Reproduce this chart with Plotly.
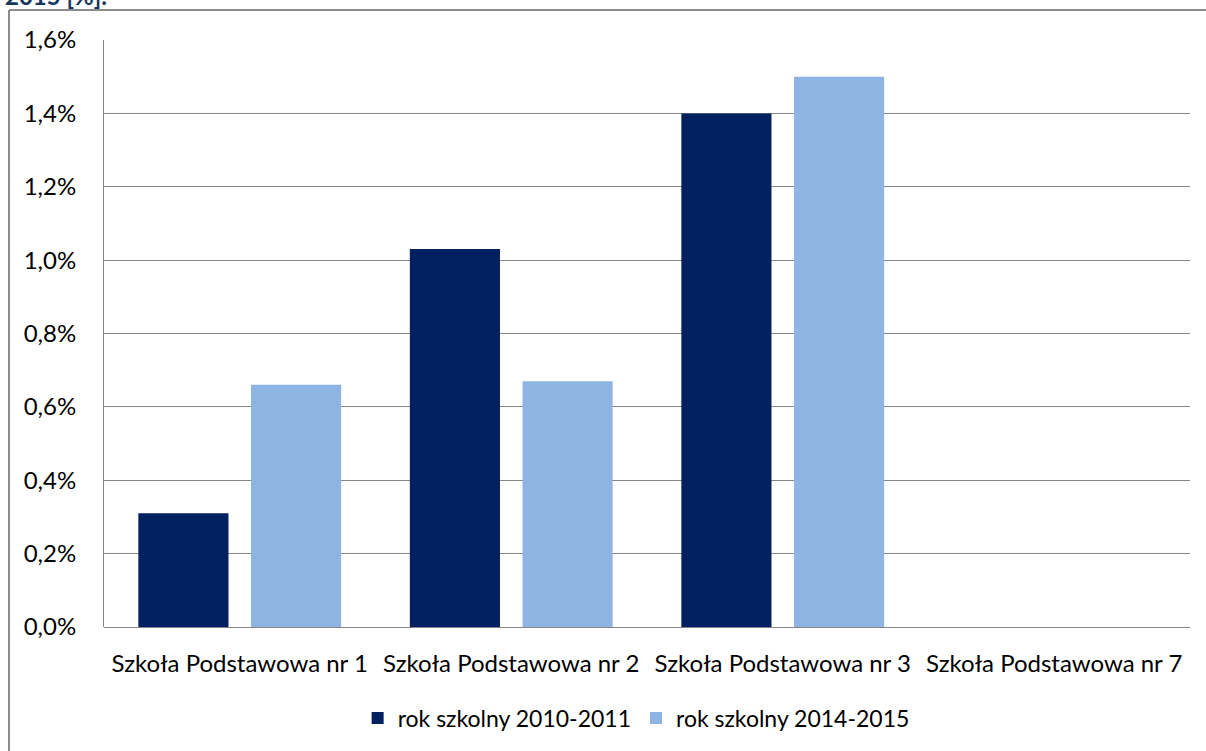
import plotly.graph_objects as go

# --- Data ---
schools = ["Szkoła Podstawowa nr 1", "Szkoła Podstawowa nr 2",
           "Szkoła Podstawowa nr 3", "Szkoła Podstawowa nr 7"]
rok_2010_2011 = [0.31, 1.03, 1.40, 0]
rok_2014_2015 = [0.66, 0.67, 1.50, 0]
y_ticks = [0, 0.2, 0.4, 0.6, 0.8, 1.0, 1.2, 1.4, 1.6]
y_labels = ["0,0%", "0,2%", "0,4%", "0,6%", "0,8%", "1,0%", "1,2%", "1,4%", "1,6%"]

FONT = "Lato, Calibri, sans-serif"
GRID = "#868686"
FRAME = "#8c8c8c"

fig = go.Figure()
fig.add_trace(go.Bar(x=schools, y=rok_2010_2011, name="rok szkolny 2010-2011",
                     marker=dict(color="#002060", line=dict(width=0))))
fig.add_trace(go.Bar(x=schools, y=rok_2014_2015, name="rok szkolny 2014-2015",
                     marker=dict(color="#8EB4E3", line=dict(width=0))))

# frame edges in paper coords (plot area: x 104..1190, y 40..627 px)
fx0 = (9 - 104) / 1086
fy1 = 1 + 30 / 587

fig.update_layout(
    width=1206, height=751,
    margin=dict(l=104, r=16, t=40, b=124),
    paper_bgcolor="white", plot_bgcolor="white",
    font=dict(family=FONT, size=24, color="#000000"),
    barmode="group", bargap=0.17, bargroupgap=0.2,
    showlegend=True,
    legend=dict(orientation="h", x=0.49, xanchor="center", y=-0.155, yanchor="middle",
                font=dict(size=23), tracegroupgap=0, itemwidth=30),
    xaxis=dict(showgrid=False, showline=False, ticks="", ticklabelstandoff=20,
               tickfont=dict(size=24)),
    yaxis=dict(range=[0, 1.6], tickvals=y_ticks, ticktext=y_labels,
               showgrid=True, gridcolor=GRID, gridwidth=1,
               zeroline=True, zerolinecolor=GRID, zerolinewidth=1,
               showline=True, linecolor=GRID, linewidth=1,
               ticks="", ticklabelstandoff=22, tickfont=dict(size=24)),
    shapes=[
        # outer chart frame: left and top edges
        dict(type="line", xref="paper", yref="paper", x0=fx0, x1=fx0, y0=-0.3, y1=fy1,
             line=dict(color=FRAME, width=2)),
        dict(type="line", xref="paper", yref="paper", x0=fx0, x1=1.05, y0=fy1, y1=fy1,
             line=dict(color=FRAME, width=2)),
    ],
    annotations=[
        dict(text="<b>2015 [%].</b>", xref="paper", yref="paper",
             x=(3 - 104) / 1086, y=1 + 28 / 587, xanchor="left", yanchor="bottom",
             showarrow=False, font=dict(size=24, color="#17375E", family=FONT)),
    ],
)

fig.write_html("out.html", config={"displayModeBar": False},
               post_script="document.body.style.margin='0';")
